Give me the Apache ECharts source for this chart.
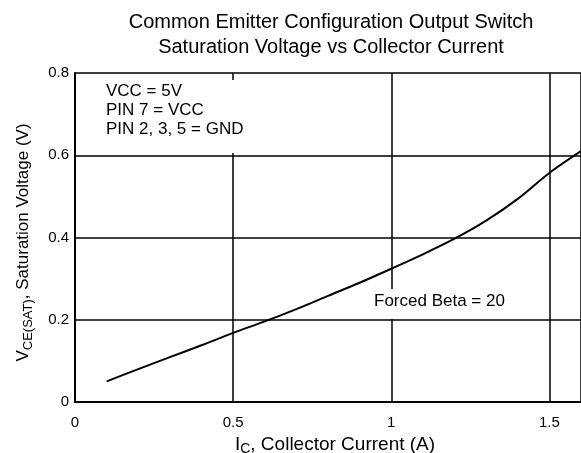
<!DOCTYPE html>
<html>
<head>
<meta charset="utf-8">
<script src="https://cdn.jsdelivr.net/npm/echarts@6/dist/echarts.min.js"></script>
<style>
  html, body { margin: 0; padding: 0; background: #fff; }
  #main { width: 581px; height: 453px; }
</style>
</head>
<body>
<div id="main"></div>
<script>
// collector current (A) and saturation voltage (V)
var current = [0.1, 0.2, 0.3, 0.4, 0.5, 0.6, 0.7, 0.8, 0.9, 1.0, 1.1, 1.2, 1.3, 1.4, 1.5, 1.6];
var vceSat = [0.05, 0.08, 0.109, 0.138, 0.168, 0.196, 0.226, 0.258, 0.29, 0.324, 0.359, 0.397, 0.441, 0.494, 0.557, 0.61];

var titleLines = ['Common Emitter Configuration Output Switch', 'Saturation Voltage vs Collector Current'];
var conditions = ['VCC = 5V', 'PIN 7 = VCC', 'PIN 2, 3, 5 = GND'];
var betaNote = 'Forced Beta = 20';

var font = 'Liberation Sans, Arial, sans-serif';

var points = [];
for (var i = 0; i < current.length; i++) {
  points.push([current[i], vceSat[i]]);
}

var myChart = echarts.init(document.getElementById('main'), null, { renderer: 'canvas' });

var option = {
  backgroundColor: '#fff',
  animation: false,
  textStyle: { fontFamily: font, color: '#000' },
  title: {
    text: titleLines.join('\n'),
    left: 326,
    top: 5,
    textAlign: 'center',
    textStyle: { fontFamily: font, fontSize: 20, fontWeight: 'normal', color: '#000', lineHeight: 25 }
  },
  grid: { left: 75, top: 73, right: 0, bottom: 51, containLabel: false, outerBoundsMode: 'none' },
  xAxis: {
    type: 'value',
    min: 0,
    max: 1.6,
    interval: 0.5,
    name: '{n|I}{s|C}{n|, Collector Current (A)}',
    nameLocation: 'middle',
    nameGap: 21,
    nameTextStyle: {
      padding: [0, 0, 0, 14],
      rich: {
        n: { fontFamily: font, fontSize: 19, color: '#000', lineHeight: 24, verticalAlign: 'middle' },
        s: { fontFamily: font, fontSize: 14, color: '#000', lineHeight: 13, verticalAlign: 'bottom' }
      }
    },
    axisLine: { show: true, lineStyle: { color: '#000', width: 2 } },
    axisTick: { show: false },
    axisLabel: {
      fontFamily: font, fontSize: 15, color: '#000', margin: 13, showMaxLabel: false
    },
    splitLine: { show: true, lineStyle: { color: '#000', width: 1.5 } }
  },
  yAxis: {
    type: 'value',
    min: 0,
    max: 0.8,
    interval: 0.2,
    name: '{n|V}{s|CE(SAT)}{n|, Saturation Voltage (V)}',
    nameLocation: 'middle',
    nameRotate: 90,
    nameGap: 40,
    nameTextStyle: {
      padding: [0, 10, 0, 0],
      rich: {
        n: { fontFamily: font, fontSize: 17, color: '#000', lineHeight: 24, verticalAlign: 'middle' },
        s: { fontFamily: font, fontSize: 13, color: '#000', lineHeight: 13, verticalAlign: 'bottom' }
      }
    },
    axisLine: { show: true, lineStyle: { color: '#000', width: 2 } },
    axisTick: { show: false },
    axisLabel: {
      fontFamily: font, fontSize: 15, color: '#000', margin: 6,
      formatter: function (v) { return v === 0 ? '0' : v.toFixed(1); }
    },
    splitLine: { show: true, lineStyle: { color: '#000', width: 1.5 } }
  },
  graphic: [
    { type: 'rect', z: 5, shape: { x: 100, y: 80, width: 155, height: 73 }, style: { fill: '#fff' } },
    {
      type: 'text', z: 6, left: 106, top: 82,
      style: { text: conditions.join('\n'), font: '17px ' + font, fill: '#000', lineHeight: 19 }
    },
    { type: 'rect', z: 5, shape: { x: 368, y: 289, width: 146, height: 30 }, style: { fill: '#fff' } },
    {
      type: 'text', z: 6, left: 374, top: 293,
      style: { text: betaNote, font: '17px ' + font, fill: '#000' }
    }
  ],
  series: [
    {
      type: 'line',
      data: points,
      smooth: 0.3,
      symbol: 'none',
      clip: true,
      lineStyle: { color: '#000', width: 2 }
    }
  ]
};

myChart.setOption(option);
</script>
</body>
</html>
